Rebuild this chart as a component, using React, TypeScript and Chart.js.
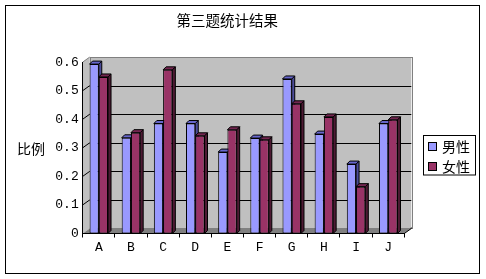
import { useEffect, useRef } from "react";
import { Chart, registerables } from "chart.js";

Chart.register(...registerables);

const TITLE = "第三题统计结果";
const Y_TITLE = "比例";
const CATEGORIES = ["A", "B", "C", "D", "E", "F", "G", "H", "I", "J"];
const MALE_LABEL = "男性";
const FEMALE_LABEL = "女性";
const MALE = [0.593, 0.335, 0.385, 0.385, 0.285, 0.334, 0.541, 0.348, 0.243, 0.385];
const FEMALE = [0.548, 0.353, 0.573, 0.342, 0.363, 0.328, 0.454, 0.408, 0.164, 0.398];
const Y_TICKS = ["0", "0.1", "0.2", "0.3", "0.4", "0.5", "0.6"];

const FRONT_COLORS = ["#9999FF", "#993366"];
const SIDE_COLORS = ["#4C4C99", "#4D1A33"];
const TOP_COLORS = ["#6666CC", "#732650"];

const DX = 7;
const DY = -5;
const BD = 3;
const CJK = "'Noto Sans CJK SC', sans-serif";
const MONO = "'Liberation Mono', monospace";

function poly(ctx: CanvasRenderingContext2D, pts: number[][], fill: string, stroke?: string) {
  ctx.beginPath();
  ctx.moveTo(pts[0][0], pts[0][1]);
  for (let i = 1; i < pts.length; i++) ctx.lineTo(pts[i][0], pts[i][1]);
  ctx.closePath();
  ctx.fillStyle = fill;
  ctx.fill();
  if (stroke) {
    ctx.strokeStyle = stroke;
    ctx.lineWidth = 1;
    ctx.stroke();
  }
}

const px = (v: number) => Math.round(v) + 0.5;

const threeD = {
  id: "threeD",
  beforeDraw(chart: any) {
    const { ctx, chartArea: a } = chart;
    const y = chart.scales.y;
    ctx.save();
    ctx.strokeStyle = "#000";
    ctx.lineWidth = 1;
    ctx.strokeRect(5.5, 5.5, 474, 268);

    const top = y.getPixelForValue(y.max);
    const bot = y.getPixelForValue(y.min);
    const L = a.left, R = a.right;
    // back wall
    ctx.fillStyle = "#C0C0C0";
    ctx.fillRect(L + DX, top + DY, R - L, bot - top);
    // left wall
    poly(ctx, [[L, bot], [L, top], [L + DX, top + DY], [L + DX, bot + DY]], "#C0C0C0");
    // floor
    poly(ctx, [[L, bot], [R, bot], [R + DX, bot + DY], [L + DX, bot + DY]], "#808080");

    // grid lines on back wall + left wall
    ctx.strokeStyle = "#000";
    ctx.lineWidth = 1;
    y.ticks.forEach((t: any) => {
      if (t.value <= y.min || t.value >= y.max) return;
      const yy = y.getPixelForValue(t.value);
      ctx.beginPath();
      ctx.moveTo(L + DX, px(yy + DY));
      ctx.lineTo(R + DX, px(yy + DY));
      ctx.stroke();
      ctx.beginPath();
      ctx.moveTo(L, yy);
      ctx.lineTo(L + DX, yy + DY);
      ctx.stroke();
    });
    // wall borders
    ctx.strokeStyle = "#808080";
    ctx.strokeRect(px(L + DX), px(top + DY), Math.round(R - L), Math.round(bot - top));
    ctx.beginPath();
    ctx.moveTo(L, top);
    ctx.lineTo(L + DX, top + DY);
    ctx.stroke();
    ctx.strokeStyle = "#000";
    ctx.beginPath();
    ctx.moveTo(R, bot);
    ctx.lineTo(R + DX, bot + DY);
    ctx.lineTo(R + DX, bot + DY - 1);
    ctx.stroke();
    ctx.restore();
  },
  beforeDatasetsDraw(chart: any) {
    const ctx = chart.ctx;
    ctx.save();
    chart.data.datasets.forEach((_ds: any, i: number) => {
      const meta = chart.getDatasetMeta(i);
      meta.data.forEach((el: any) => {
        const { x, y, base, width } = el.getProps(["x", "y", "base", "width"], true);
        const l = x - width / 2;
        const r = x + width / 2;
        poly(ctx, [[r, y], [r + BD, y - BD], [r + BD, base - BD], [r, base]], SIDE_COLORS[i], "#000");
        poly(ctx, [[l, y], [l + BD, y - BD], [r + BD, y - BD], [r, y]], TOP_COLORS[i], "#000");
      });
    });
    ctx.restore();
  },
  afterDraw(chart: any) {
    const ctx = chart.ctx;
    const a = chart.chartArea;
    ctx.save();
    ctx.fillStyle = "#000";
    ctx.font = `14px ${CJK}`;
    ctx.textBaseline = "middle";
    ctx.textAlign = "left";
    ctx.fillText(Y_TITLE, 17, (a.top + a.bottom) / 2 + 1);

    // legend
    const lx = 423.5, ly = 135.5, lw = 52, lh = 39.5;
    ctx.strokeStyle = "#000";
    ctx.lineWidth = 1;
    ctx.strokeRect(lx, ly, lw, lh);
    chart.data.datasets.forEach((ds: any, i: number) => {
      const cy = 146.5 + i * 20;
      ctx.fillStyle = ds.backgroundColor;
      ctx.fillRect(428, Math.round(cy - 4.5), 9, 9);
      ctx.strokeRect(428.5, Math.round(cy - 4.5) + 0.5, 8, 8);
      ctx.fillStyle = "#000";
      ctx.font = `14px ${CJK}`;
      ctx.fillText(ds.label, 442, cy);
    });
    ctx.restore();
  },
};

export default function App() {
  const ref = useRef<HTMLCanvasElement>(null);
  useEffect(() => {
    if (!ref.current) return;
    const chart = new Chart(ref.current, {
      type: "bar",
      data: {
        labels: CATEGORIES,
        datasets: [
          {
            label: MALE_LABEL,
            data: MALE,
            backgroundColor: FRONT_COLORS[0],
            borderColor: "#000",
            borderWidth: 1,
            borderSkipped: false,
          },
          {
            label: FEMALE_LABEL,
            data: FEMALE,
            backgroundColor: FRONT_COLORS[1],
            borderColor: "#000",
            borderWidth: 1,
            borderSkipped: false,
          },
        ],
      },
      options: {
        responsive: false,
        animation: false,
        datasets: { bar: { categoryPercentage: 0.575, barPercentage: 1 } },
        layout: { padding: { left: 50, right: 81.7, top: 6, bottom: 20.5 } },
        plugins: {
          legend: { display: false },
          tooltip: { enabled: false },
          title: {
            display: true,
            text: TITLE,
            color: "#000",
            font: { family: CJK, size: 14.5, weight: "normal", lineHeight: 1.2 },
            padding: { top: 6, bottom: 32.7 },
          },
        },
        scales: {
          x: {
            grid: { display: true, drawOnChartArea: false, drawTicks: true, tickLength: 4, color: "#000", offset: true },
            border: { display: true, color: "#000" },
            ticks: { color: "#000", padding: 2, font: { family: MONO, size: 13 } },
            afterFit: (s: any) => {
              s.height = 25;
            },
          },
          y: {
            min: 0,
            max: 0.6,
            grid: { display: false, drawTicks: false },
            border: { display: true, color: "#000" },
            ticks: {
              stepSize: 0.1,
              padding: 4,
              color: "#000",
              font: { family: MONO, size: 13 },
              callback: (v: any) => Y_TICKS[Math.round(Number(v) * 10)],
            },
            afterFit: (s: any) => {
              s.width = 32.7;
            },
          },
        },
      } as any,
      plugins: [threeD],
    });
    return () => chart.destroy();
  }, []);
  return (
    <div style={{ position: "absolute", left: 0, top: 0, width: 486, height: 279, background: "#fff" }}>
      <canvas ref={ref} width={486} height={279} style={{ display: "block" }} />
    </div>
  );
}
